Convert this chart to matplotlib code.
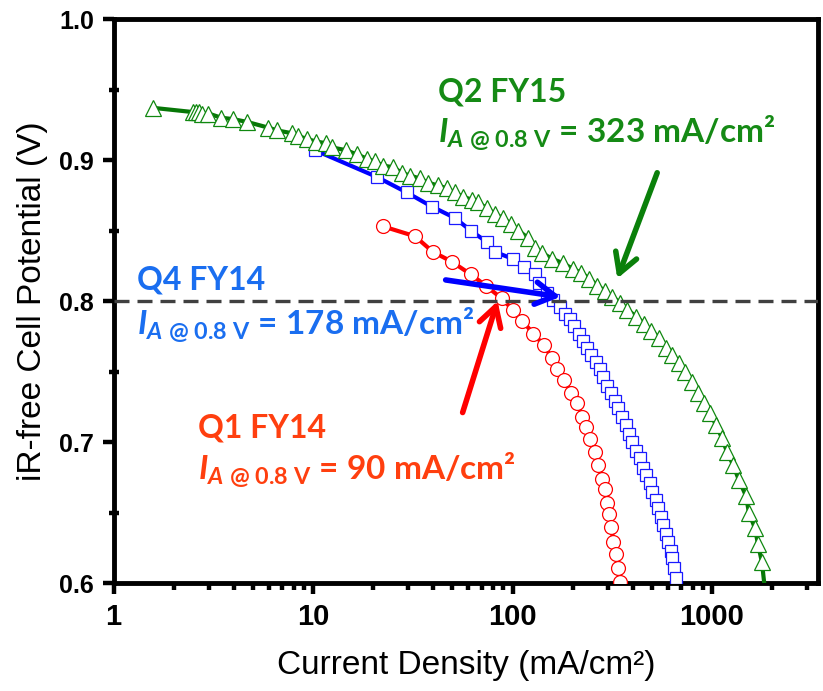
import numpy as np
import matplotlib
matplotlib.use("Agg")
import matplotlib.pyplot as plt
from matplotlib.ticker import LogLocator, MultipleLocator, FixedLocator, NullFormatter

# Q1 FY14 (red circles)
q1_j = [22.4, 32.4, 39.8, 49.5, 61.7, 73.3, 88.1, 100, 112, 127, 143, 157, 168, 182,
        197, 211, 224, 234, 245, 260, 269, 282, 292, 299, 305, 313, 320, 331, 339, 347]
q1_v = [0.853, 0.846, 0.835, 0.828, 0.819, 0.811, 0.802, 0.794, 0.786, 0.777, 0.769,
        0.760, 0.752, 0.744, 0.735, 0.728, 0.718, 0.711, 0.702, 0.693, 0.684, 0.674,
        0.667, 0.657, 0.649, 0.640, 0.629, 0.621, 0.611, 0.601]

# Q4 FY14 (blue squares)
q4_j = [10.2, 20.9, 29.5, 39.4, 51.3, 61.7, 74.1, 81.3, 100, 114, 129, 136, 148, 160,
        172, 184, 193, 204, 216, 226, 237, 248, 263, 275, 285, 299, 313, 327, 339, 355,
        372, 385, 398, 417, 437, 452, 468, 490, 501, 525, 537, 556, 569, 589, 603, 624,
        631, 646, 661, 680]
q4_v = [0.907, 0.888, 0.877, 0.867, 0.859, 0.850, 0.842, 0.835, 0.830, 0.824, 0.819,
        0.813, 0.806, 0.801, 0.796, 0.791, 0.787, 0.782, 0.777, 0.772, 0.767, 0.762,
        0.757, 0.752, 0.746, 0.740, 0.735, 0.729, 0.724, 0.718, 0.712, 0.706, 0.700,
        0.694, 0.689, 0.682, 0.677, 0.671, 0.665, 0.659, 0.653, 0.647, 0.641, 0.635,
        0.629, 0.623, 0.618, 0.611, 0.604, 0.592]

# Q2 FY15 (green triangles)
q2_j = [1.58, 2.51, 2.60, 2.69, 2.79, 2.99, 3.47, 3.98, 4.68, 5.96, 6.61, 7.85, 8.41,
        9.33, 10.4, 11.6, 12.4, 14.6, 16.6, 18.6, 20.4, 22.4, 25.1, 27.9, 30.5, 34.3,
        37.6, 42.2, 46.8, 51.3, 56.2, 62.4, 66.8, 74.1, 81.3, 89.1, 97.7, 107, 119,
        130, 141, 158, 178, 200, 221, 243, 266, 292, 316, 347, 376, 417, 457, 496, 543,
        589, 631, 684, 733, 794, 851, 912, 977, 1047, 1122, 1189, 1274, 1365, 1479,
        1531, 1641, 1698, 1778, 1860]
q2_v = [0.937, 0.934, 0.934, 0.934, 0.933, 0.933, 0.930, 0.929, 0.927, 0.923, 0.921,
        0.919, 0.917, 0.915, 0.913, 0.912, 0.909, 0.907, 0.904, 0.901, 0.899, 0.896,
        0.895, 0.891, 0.889, 0.887, 0.884, 0.882, 0.880, 0.877, 0.874, 0.872, 0.870,
        0.866, 0.862, 0.859, 0.855, 0.850, 0.845, 0.838, 0.834, 0.830, 0.827, 0.823,
        0.820, 0.816, 0.811, 0.807, 0.803, 0.799, 0.794, 0.789, 0.784, 0.779, 0.774,
        0.767, 0.762, 0.756, 0.750, 0.743, 0.735, 0.728, 0.721, 0.712, 0.703, 0.693,
        0.684, 0.673, 0.662, 0.650, 0.639, 0.628, 0.615, 0.590]

xticks = [1, 10, 100, 1000]
xtick_labels = ["1", "10", "100", "1000"]
yticks = [0.6, 0.7, 0.8, 0.9, 1.0]

plt.rcParams["mathtext.fontset"] = "custom"
plt.rcParams["mathtext.bf"] = "Lato:bold"
plt.rcParams["mathtext.it"] = "Lato:italic"
plt.rcParams["mathtext.bfit"] = "Lato:bold:italic"
plt.rcParams["mathtext.rm"] = "Lato:bold"

sans = "Liberation Sans"

fig = plt.figure(figsize=(8.23, 6.91), dpi=100)
ax = fig.add_axes([0.138, 0.156, 0.856, 0.8165])

ax.plot(q4_j, q4_v, color="#0000ff", lw=3, marker="s", ms=8.5, mfc="white",
        mec="#1a1aff", mew=0.9, zorder=3)
ax.plot(q1_j, q1_v, color="#ff0000", lw=3, marker="o", ms=10, mfc="white",
        mec="#ff0000", mew=0.9, zorder=4)
ax.plot(q2_j, q2_v, color="#077707", lw=3, marker="^", ms=12, mfc="white",
        mec="#108810", mew=0.9, zorder=5)

ax.axhline(0.8, color="#404040", lw=2.4, ls=(0, (4.5, 2.4)), zorder=6)

ax.set_xscale("log")
ax.set_xlim(1, 3400)
ax.set_ylim(0.6, 1.0)

ax.xaxis.set_major_locator(FixedLocator(xticks))
ax.set_xticklabels(xtick_labels)
ax.xaxis.set_minor_locator(LogLocator(base=10, subs=np.arange(2, 10), numticks=20))
ax.xaxis.set_minor_formatter(NullFormatter())
ax.set_yticks(yticks)
ax.set_yticklabels([f"{v:.1f}" for v in yticks])
ax.yaxis.set_minor_locator(MultipleLocator(0.05))

for s in ax.spines.values():
    s.set_linewidth(3.5)
ax.tick_params(which="major", direction="out", length=8, width=3.2, pad=6)
ax.tick_params(which="minor", direction="out", length=5, width=3.2)
ax.tick_params(axis="y", which="minor", direction="inout", length=7)
for lab in ax.get_xticklabels():
    lab.set_family(sans)
    lab.set_fontweight("bold")
    lab.set_fontsize(21)
for lab in ax.get_yticklabels():
    lab.set_family(sans)
    lab.set_fontweight("bold")
    lab.set_fontsize(18)

ax.set_xlabel("Current Density (mA/cm\u00b2)", family=sans, fontsize=24, labelpad=14)
ax.set_ylabel("iR-free Cell Potential (V)", family=sans, fontsize=24, labelpad=8)

sub = r"$\mathbfit{I}_{\mathbfit{A}\ \mathbf{@\ 0.8\ V}}$"
ann = [
    ("Q2 FY15", "323", "#158a15", 0.46, 0.853, 0.780),
    ("Q4 FY14", "178", "#1a6ef0", 0.033, 0.520, 0.440),
    ("Q1 FY14", "90", "#ff3f0f", 0.120, 0.259, 0.183),
]
for title, val, col, tx, ty1, ty2 in ann:
    ax.text(tx, ty1, title, transform=ax.transAxes, color=col, family="Lato",
            fontweight="bold", fontsize=23, va="baseline", zorder=8)
    ax.text(tx, ty2, sub + " = " + val + " mA/cm\u00b2", transform=ax.transAxes,
            color=col, family="Lato", fontweight="bold", fontsize=24,
            va="baseline", zorder=8)

arrows = [
    ((335, 0.816), (531, 0.891), "#0a800a"),
    ((174, 0.803), (46.2, 0.815), "#0000ff"),
    ((84.1, 0.800), (56.2, 0.721), "#ff0000"),
]
for tip, tail, col in arrows:
    ax.annotate("", xy=tip, xytext=tail,
                arrowprops=dict(arrowstyle="->,head_length=0.7,head_width=0.4",
                                lw=4, color=col, shrinkA=0, shrinkB=0,
                                mutation_scale=20),
                zorder=9)

fig.savefig("out.png", dpi=100)
